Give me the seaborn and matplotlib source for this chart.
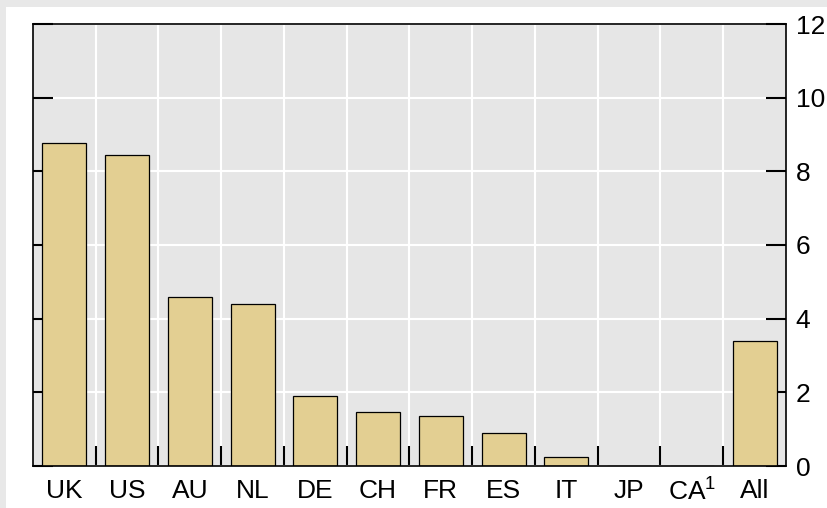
import seaborn as sns
import pandas as pd
import numpy as np
import matplotlib
matplotlib.use("Agg")
import matplotlib.pyplot as plt
from matplotlib.patches import Rectangle

# Share by country
countries = ["UK", "US", "AU", "NL", "DE", "CH", "FR", "ES", "IT", "JP", "CA$^1$", "All"]
values = [8.78, 8.45, 4.59, 4.40, 1.91, 1.46, 1.37, 0.90, 0.25, 0.0, 0.0, 3.40]
y_ticks = [0, 2, 4, 6, 8, 10, 12]

df = pd.DataFrame({"country": countries, "value": values})

sns.set_style("white", {"axes.facecolor": "#e6e6e6"})
plt.rcParams["font.family"] = ["Liberation Sans", "DejaVu Sans"]
plt.rcParams["mathtext.fontset"] = "custom"
plt.rcParams["mathtext.rm"] = "Liberation Sans"
plt.rcParams["mathtext.it"] = "Liberation Sans"
plt.rcParams["mathtext.default"] = "regular"

fig = plt.figure(figsize=(8.28, 5.08), dpi=100, facecolor="#e8e8e8")
# white card, the gray shows only as a thin band on the left and top
fig.patches.append(Rectangle((6 / 828, 0), 1, 1 - 7 / 508, transform=fig.transFigure,
                             facecolor="white", edgecolor="none", zorder=-1))
ax = fig.add_axes([33 / 828, 42 / 508, (786 - 33) / 828, (466 - 24) / 508])

sns.barplot(data=df, x="country", y="value", color="#e3cf92", edgecolor="black",
            linewidth=0.9, width=0.7, saturation=1, ax=ax)

ax.set_xlim(-0.5, len(countries) - 0.5)
ax.set_ylim(0, 12)
ax.set_xlabel("")
ax.set_ylabel("")
ax.set_axisbelow(True)

# gridlines: horizontal at y ticks, vertical between categories
ax.set_yticks(y_ticks)
ax.set_xticks(np.arange(len(countries)))
ax.set_xticklabels(countries)
ax.set_xticks(np.arange(len(countries) - 1) + 0.5, minor=True)
ax.grid(True, axis="y", which="major", color="white", linewidth=1.5)
ax.grid(True, axis="x", which="minor", color="white", linewidth=1.5)
ax.grid(False, axis="x", which="major")

ax.tick_params(axis="x", which="major", length=0, pad=9, labelsize=19, labelcolor="black")
ax.tick_params(axis="x", which="minor", direction="in", length=14.5, width=1.5,
               color="black", bottom=True, top=False)
ax.tick_params(axis="y", which="major", direction="in", length=14.5, width=1.5,
               left=True, right=True, labelleft=False, labelright=True,
               pad=7, labelsize=19, color="black", labelcolor="black")

for s in ax.spines.values():
    s.set_visible(True)
    s.set_color("black")
    s.set_linewidth(1.2)

fig.savefig("out.png", dpi=100, facecolor=fig.get_facecolor())
